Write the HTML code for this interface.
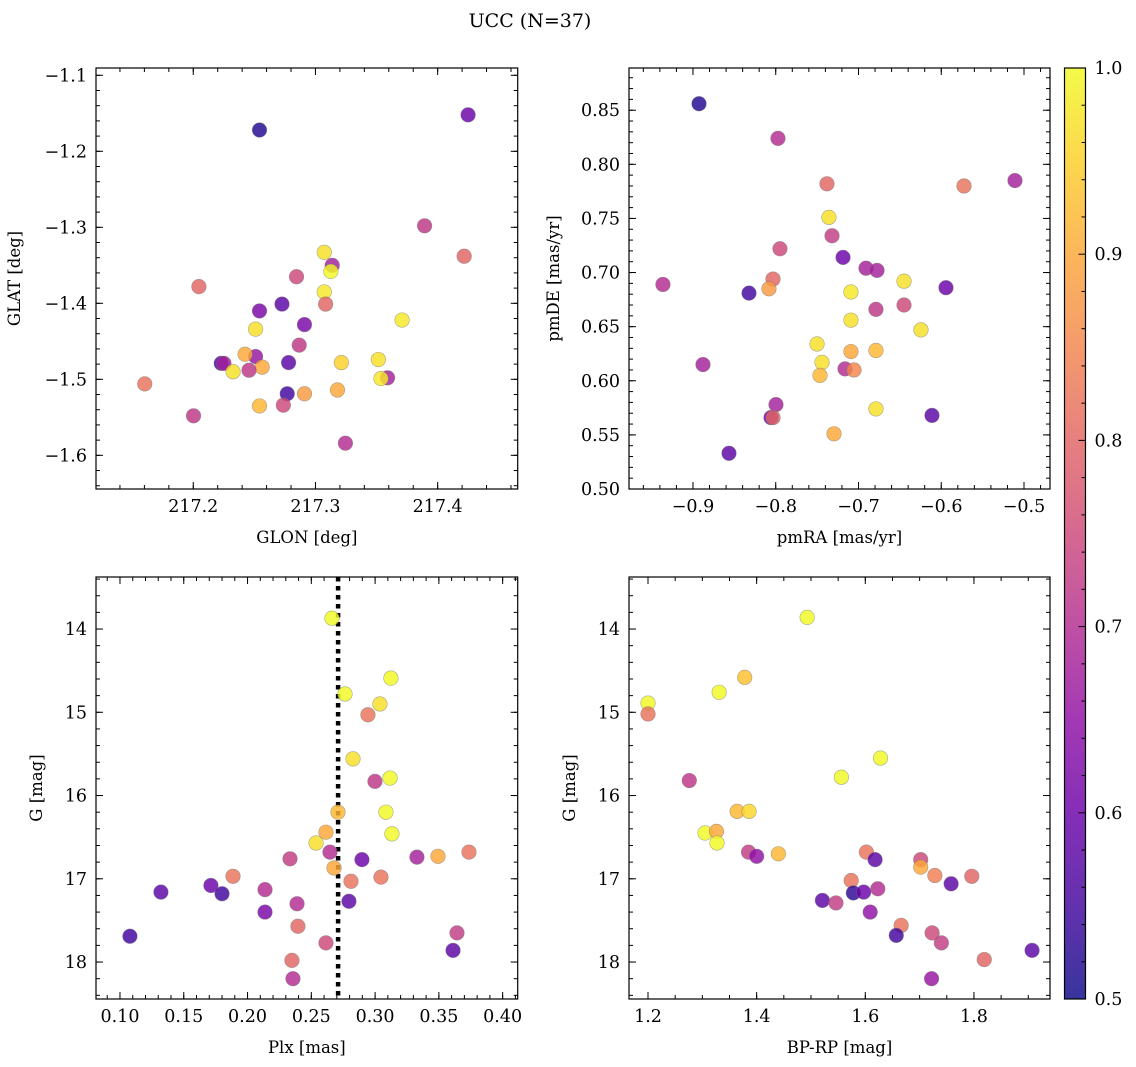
<!DOCTYPE html>
<html><head><meta charset="utf-8"><style>
body{margin:0;background:#fff;}
svg{display:block;font-family:"DejaVu Serif","Liberation Serif",serif;}
</style></head><body>
<svg id="fig" width="1136" height="1067" viewBox="0 0 1136 1067">
<text x="530" y="27" text-anchor="middle" font-size="19">UCC (N=37)</text>
</svg>
<script>
// Panel 1: GLON vs GLAT
const glon=[217.2542,217.4249,217.3893,217.4217,217.3072,217.3137,217.3126,217.2046,217.2845,217.3072,217.3083,217.2726,217.2542,217.3709,217.291,217.251,217.2867,217.251,217.2424,217.2229,217.2251,217.278,217.2564,217.2326,217.2456,217.3515,217.3212,217.359,217.3536,217.1603,217.2769,217.291,217.318,217.2542,217.2737,217.2002,217.3245];
const glat=[-1.172,-1.152,-1.298,-1.338,-1.333,-1.35,-1.358,-1.378,-1.365,-1.385,-1.401,-1.401,-1.41,-1.422,-1.428,-1.434,-1.455,-1.47,-1.467,-1.479,-1.479,-1.478,-1.484,-1.49,-1.488,-1.474,-1.478,-1.498,-1.499,-1.506,-1.519,-1.519,-1.514,-1.535,-1.534,-1.548,-1.584];
const prob1=[0.52,0.6,0.72,0.8,0.97,0.68,1.0,0.8,0.75,0.98,0.8,0.58,0.62,0.98,0.62,0.97,0.72,0.66,0.9,0.55,0.68,0.58,0.9,0.97,0.72,0.97,0.95,0.68,0.98,0.82,0.55,0.88,0.9,0.92,0.75,0.72,0.7];
// Panel 2: pmRA vs pmDE
const pmra=[-0.8927,-0.7973,-0.5109,-0.7381,-0.5725,-0.7357,-0.732,-0.7949,-0.7187,-0.6909,-0.6776,-0.8033,-0.8082,-0.645,-0.8323,-0.5943,-0.7091,-0.9363,-0.645,-0.6789,-0.7091,-0.6245,-0.7501,-0.7091,-0.6789,-0.7441,-0.8879,-0.7163,-0.7054,-0.7465,-0.6789,-0.7997,-0.8057,-0.8033,-0.6112,-0.7296,-0.8565];
const pmde=[0.856,0.824,0.785,0.782,0.78,0.751,0.734,0.722,0.714,0.704,0.702,0.694,0.685,0.692,0.681,0.686,0.682,0.689,0.67,0.666,0.656,0.647,0.634,0.627,0.628,0.617,0.615,0.611,0.61,0.605,0.574,0.578,0.566,0.566,0.568,0.551,0.533];
const prob2=[0.52,0.7,0.68,0.8,0.82,0.97,0.73,0.75,0.6,0.68,0.68,0.8,0.88,0.97,0.55,0.6,0.98,0.7,0.75,0.72,0.97,0.97,0.97,0.9,0.92,0.97,0.68,0.7,0.85,0.92,0.97,0.68,0.6,0.8,0.58,0.9,0.58];
// Panel 3: Plx vs G
const plx=[0.2662,0.3124,0.2764,0.3038,0.2944,0.2827,0.3117,0.2999,0.3085,0.2709,0.3132,0.2615,0.2537,0.2646,0.3493,0.3736,0.3328,0.2333,0.2897,0.2678,0.1886,0.3046,0.2811,0.1713,0.1321,0.2137,0.18,0.2795,0.2388,0.2137,0.2395,0.3642,0.1078,0.2615,0.3611,0.2348,0.2356];
const gmag3=[13.87,14.59,14.78,14.90,15.03,15.56,15.79,15.83,16.20,16.20,16.46,16.44,16.57,16.68,16.73,16.68,16.74,16.76,16.77,16.87,16.97,16.98,17.03,17.08,17.16,17.13,17.18,17.27,17.30,17.40,17.57,17.65,17.69,17.77,17.86,17.98,18.20];
const prob3=[1.0,1.0,1.0,0.97,0.82,0.97,1.0,0.72,1.0,0.92,1.0,0.9,0.97,0.7,0.9,0.82,0.68,0.73,0.6,0.9,0.82,0.82,0.82,0.6,0.58,0.7,0.55,0.58,0.7,0.62,0.8,0.73,0.55,0.75,0.58,0.8,0.7];
const plxRef=[0.271];
// Panel 4: BP-RP vs G
const bprp=[1.493,1.2,1.2,1.331,1.378,1.628,1.556,1.276,1.364,1.386,1.305,1.326,1.327,1.385,1.4,1.44,1.602,1.618,1.702,1.702,1.728,1.796,1.758,1.574,1.578,1.597,1.623,1.521,1.546,1.609,1.666,1.657,1.723,1.74,1.907,1.819,1.722];
const gmag4=[13.86,14.89,15.02,14.76,14.58,15.55,15.78,15.82,16.19,16.19,16.45,16.43,16.57,16.68,16.73,16.70,16.68,16.77,16.77,16.86,16.96,16.97,17.06,17.02,17.17,17.16,17.12,17.26,17.29,17.40,17.56,17.68,17.65,17.77,17.86,17.97,18.2];
const prob4=[1.0,1.0,0.82,1.0,0.93,1.0,1.0,0.72,0.92,0.96,1.0,0.9,1.0,0.73,0.65,0.92,0.82,0.58,0.75,0.9,0.84,0.8,0.58,0.82,0.53,0.6,0.7,0.58,0.73,0.65,0.82,0.55,0.75,0.73,0.58,0.8,0.66];
// Colorbar ticks
const cbarTicks=[0.5,0.6,0.7,0.8,0.9,1.0];

const NS="http://www.w3.org/2000/svg";
const svg=document.getElementById('fig');
const stops=['#0d0887','#41049d','#6a00a8','#8f0da4','#b12a90','#cc4778','#e16462','#f2844b','#fca636','#fcce25','#f0f921'];
function hex(h){return [1,3,5].map(i=>parseInt(h.substr(i,2),16));}
function plasma(t){t=Math.max(0,Math.min(1,t));const f=t*10,i=Math.min(9,Math.floor(f)),u=f-i;const a=hex(stops[i]),b=hex(stops[i+1]);return 'rgb('+a.map((v,k)=>Math.round(v+(b[k]-v)*u)).join(',')+')';}
function cval(p){return plasma((p-0.5)/0.5);}
function el(tag,attrs,parent){const e=document.createElementNS(NS,tag);for(const k in attrs)e.setAttribute(k,attrs[k]);(parent||svg).appendChild(e);return e;}
function fmt(v,d){return (v<0?'\u2212':'')+Math.abs(v).toFixed(d);}
const TFS=17.5;

function panel(o){
  const g=el('g',{});
  
  
  const X=v=>o.x0+(v-o.xd[0])/(o.xd[1]-o.xd[0])*(o.x1-o.x0);
  const Y=o.yinv?(v=>o.y0+(v-o.yd[0])/(o.yd[1]-o.yd[0])*(o.y1-o.y0)):(v=>o.y1-(v-o.yd[0])/(o.yd[1]-o.yd[0])*(o.y1-o.y0));
  const tg=el('g',{stroke:'#000','stroke-width':1},g);
  function ticks(dom,step,len,isX,label,dec){
    const s=Math.ceil(dom[0]/step-1e-6),e=Math.floor(dom[1]/step+1e-6);
    for(let k=s;k<=e;k++){const v=k*step;
      if(isX){const p=X(v);el('line',{x1:p,x2:p,y1:o.y1,y2:o.y1-len},tg);el('line',{x1:p,x2:p,y1:o.y0,y2:o.y0+len},tg);
        if(label){const t=el('text',{x:p,y:o.y1+23,'text-anchor':'middle','font-size':TFS,stroke:'none'},g);t.textContent=fmt(v,dec);}}
      else{const p=Y(v);el('line',{y1:p,y2:p,x1:o.x0,x2:o.x0+len},tg);el('line',{y1:p,y2:p,x1:o.x1,x2:o.x1-len},tg);
        if(label){const t=el('text',{x:o.x0-9,y:p+6,'text-anchor':'end','font-size':TFS,stroke:'none'},g);t.textContent=fmt(v,dec);}}
    }
  }
  ticks(o.xd,o.xmaj,7,true,true,o.xdec);ticks(o.xd,o.xmin,4,true,false);
  ticks(o.yd,o.ymaj,7,false,true,o.ydec);ticks(o.yd,o.ymin,4,false,false);
  if(o.vline!==undefined){const l=el('line',{x1:X(o.vline),x2:X(o.vline),y1:o.y0,y2:o.y1,stroke:'#000','stroke-width':4.5,'stroke-dasharray':'4.5,4.5'},g);
    }
  for(let i=0;i<o.xs.length;i++){
    const c=el('circle',{cx:X(o.xs[i]),cy:Y(o.ys[i]),r:7.3,fill:cval(o.ps[i]),'fill-opacity':0.82,stroke:'#777','stroke-opacity':0.6,'stroke-width':0.6},g);
    
    
  }
  el('rect',{x:o.x0,y:o.y0,width:o.x1-o.x0,height:o.y1-o.y0,fill:'none',stroke:'#000','stroke-width':1.2},g);
  const xl=el('text',{x:(o.x0+o.x1)/2,y:o.y1+54,'text-anchor':'middle','font-size':16.5},g);xl.textContent=o.xlab;
  
  const yx=o.x0-o.ylo,yy=(o.y0+o.y1)/2;
  const yl=el('text',{x:yx,y:yy,'text-anchor':'middle','font-size':16.5,transform:'rotate(-90 '+yx+' '+yy+')'},g);yl.textContent=o.ylab;
  
}
panel({name:'glon-glat-panel',x0:96,x1:517.7,y0:68,y1:489,xd:[217.1204,217.4655],yd:[-1.6443,-1.0904],xmaj:0.1,xmin:0.02,ymaj:0.1,ymin:0.02,xdec:1,ydec:1,xs:glon,ys:glat,ps:prob1,xlab:'GLON [deg]',ylab:'GLAT [deg]',ylo:76});
panel({name:'pm-panel',x0:629,x1:1050,y0:68,y1:489,xd:[-0.9773,-0.4686],yd:[0.5,0.889],xmaj:0.1,xmin:0.02,ymaj:0.05,ymin:0.01,xdec:1,ydec:2,xs:pmra,ys:pmde,ps:prob2,xlab:'pmRA [mas/yr]',ylab:'pmDE [mas/yr]',ylo:70});
panel({name:'plx-g-panel',x0:96,x1:517.7,y0:577,y1:999,xd:[0.0812,0.4118],yd:[13.375,18.444],yinv:true,xmaj:0.05,xmin:0.01,ymaj:1,ymin:0.2,xdec:2,ydec:0,xs:plx,ys:gmag3,ps:prob3,xlab:'Plx [mas]',ylab:'G [mag]',vline:plxRef[0],ylo:54});
panel({name:'cmd-panel',x0:629,x1:1050,y0:577,y1:999,xd:[1.165,1.94],yd:[13.375,18.444],yinv:true,xmaj:0.2,xmin:0.05,ymaj:1,ymin:0.2,xdec:1,ydec:0,xs:bprp,ys:gmag4,ps:prob4,xlab:'BP-RP [mag]',ylab:'G [mag]',ylo:54});

// colorbar
const cb=el('g',{});


const defs=el('defs',{},cb);
const lg=el('linearGradient',{id:'cg',x1:0,y1:1,x2:0,y2:0},defs);
for(let i=0;i<=20;i++){el('stop',{offset:(i/20),'stop-color':plasma(i/20),'stop-opacity':0.82},lg);}
const cx0=1064.5,cx1=1085.5,cy0=68,cy1=999;
el('rect',{x:cx0,y:cy0,width:cx1-cx0,height:cy1-cy0,fill:'url(#cg)',stroke:'#000','stroke-width':1.2},cb);
const CY=v=>cy1-(v-0.5)/0.5*(cy1-cy0);
for(let k=25;k<=50;k++){const v=k/50,p=CY(v),maj=k%5===0;el('line',{x1:cx1,x2:cx1-(maj?7:4),y1:p,y2:p,stroke:'#000'},cb);}
cbarTicks.forEach(v=>{const t=el('text',{x:cx1+9,y:CY(v)+6,'font-size':TFS},cb);t.textContent=v.toFixed(1);
  
  });
</script>
</body></html>
